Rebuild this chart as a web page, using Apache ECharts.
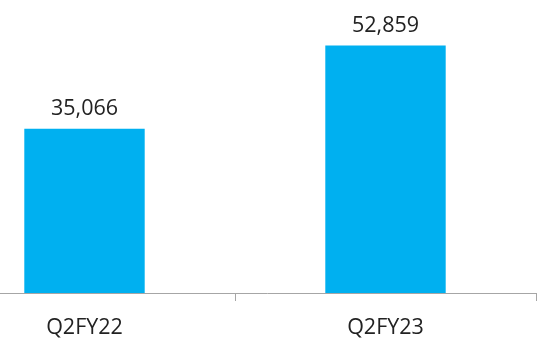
<!DOCTYPE html>
<html>
<head>
<meta charset="utf-8">
<script src="https://cdn.jsdelivr.net/npm/echarts@6/dist/echarts.min.js"></script>
<style>
  html, body { margin: 0; padding: 0; background: #fff; }
  #chart { width: 537px; height: 338px; }
</style>
</head>
<body>
<div id="chart"></div>
<script>
// Quarterly totals
const categories = ['Q2FY22', 'Q2FY23'];
const values = [35066, 52859];

const chart = echarts.init(document.getElementById('chart'), null, { renderer: 'canvas' });
const fontFamily = '"Open Sans", "Noto Sans", sans-serif';

chart.setOption({
  animation: false,
  backgroundColor: '#ffffff',
  grid: {
    left: -66, right: 1, top: 12, bottom: 45,
    containLabel: false,
    outerBoundsMode: 'none'
  },
  xAxis: {
    type: 'category',
    data: categories,
    axisLine: { show: true, lineStyle: { color: '#a6a6a6', width: 1 } },
    axisTick: { show: true, length: 8, lineStyle: { color: '#a6a6a6' } },
    axisLabel: { color: '#222222', fontSize: 21.5, fontFamily: fontFamily, margin: 24 }
  },
  yAxis: {
    type: 'value',
    min: 0,
    max: 60000,
    show: false,
    splitLine: { show: false }
  },
  series: [{
    type: 'bar',
    data: values,
    barWidth: '40%',
    itemStyle: { color: '#00b0f0' },
    label: {
      show: true,
      position: 'top',
      distance: 9,
      color: '#222222',
      fontSize: 21.5,
      fontFamily: fontFamily,
      formatter: p => p.value.toLocaleString('en-US')
    }
  }]
});
</script>
</body>
</html>
